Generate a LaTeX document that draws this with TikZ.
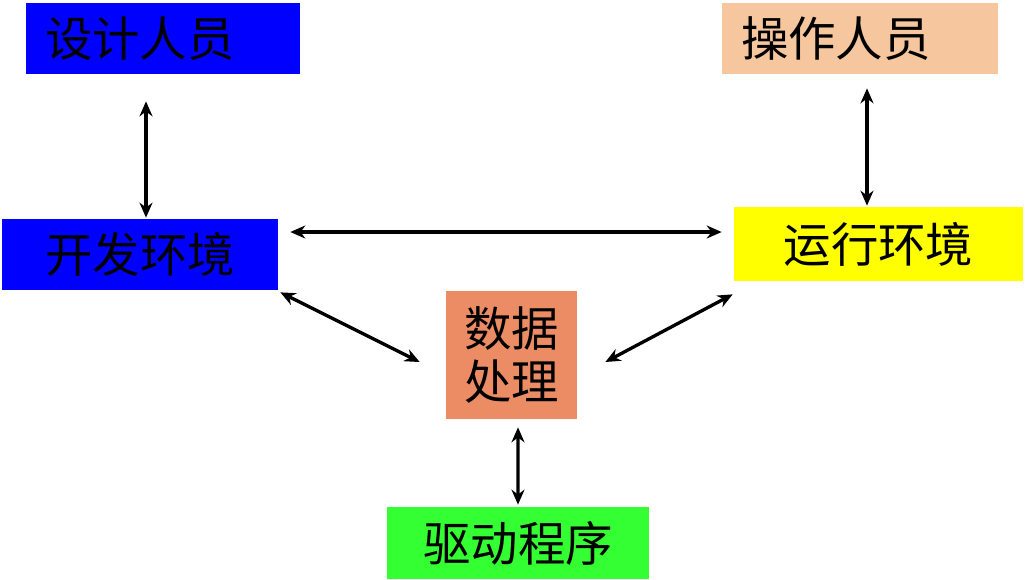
\documentclass[tikz,border=0pt]{standalone}
\usepackage{fontspec}
\newfontfamily\cjk{Noto Sans CJK SC}
\usepackage{tikz}
\usetikzlibrary{arrows.meta}
\definecolor{blueB}{RGB}{0,0,255}
\definecolor{peach}{RGB}{246,198,158}
\definecolor{yellowB}{RGB}{255,255,0}
\definecolor{salmon}{RGB}{236,140,100}
\definecolor{greenB}{RGB}{51,255,51}
\begin{document}
\begin{tikzpicture}[x=0.02cm,y=-0.02cm,box/.style={shape=rectangle,inner sep=0pt,text=black,font=\cjk\fontsize{27}{30}\selectfont},boxL/.style={box,inner xsep=0.38cm,align=left},link/.style={{Stealth[length=0.3cm,width=0.26cm]}-{Stealth[length=0.3cm,width=0.26cm]},line width=1.9pt}]
\useasboundingbox (0,0) rectangle (1027,579);

\node[boxL,fill=blueB,minimum width=5.48cm,minimum height=1.42cm,text width=4.72cm] (sj) at (163,38.5) {设计人员};
\node[box,fill=blueB,minimum width=5.52cm,minimum height=1.42cm] (kf) at (140,254.5) {开发环境};
\node[boxL,fill=peach,minimum width=5.52cm,minimum height=1.42cm,text width=4.76cm] (cz) at (860,38.5) {操作人员};
\node[box,fill=yellowB,minimum width=5.78cm,minimum height=1.48cm] (yx) at (878.5,244) {运行环境};
\node[box,fill=salmon,minimum width=2.62cm,minimum height=2.56cm,align=center] (sjcl) at (511.5,355) {数据\\处理};
\node[box,fill=greenB,minimum width=5.24cm,minimum height=1.44cm] (qd) at (518,543) {驱动程序};

\draw[link] ([shift={(-17,27)}]sj.south) -- ([shift={(6,-1)}]kf.north);
\draw[link] ([shift={(7,14)}]cz.south) -- ([shift={(-11.5,-1)}]yx.north);
\draw[link] ([shift={(12,-22.5)}]kf.east) -- ([shift={(-12,-12)}]yx.west);
\draw[link] ([shift={(2,2)}]kf.south east) -- ([shift={(-26,7)}]sjcl.west);
\draw[link] ([shift={(-1,13)}]yx.south west) -- ([shift={(28,7)}]sjcl.east);
\draw[link] ([shift={(6.5,8)}]sjcl.south) -- ([shift={(0,-2)}]qd.north);
\end{tikzpicture}
\end{document}
